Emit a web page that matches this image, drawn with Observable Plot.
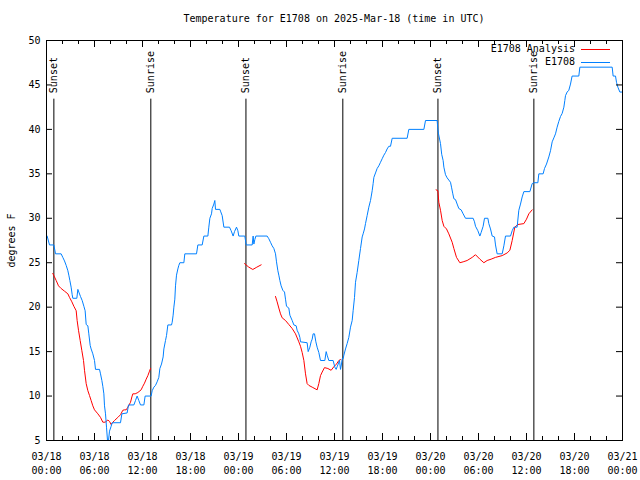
<!DOCTYPE html>
<html><head><meta charset="utf-8">
<script src="https://cdn.jsdelivr.net/npm/d3@7"></script>
<script src="https://cdn.jsdelivr.net/npm/@observablehq/plot@0.6"></script>
<style>
body{margin:0;background:#fff;font-family:"DejaVu Sans Mono",monospace;}
#wrap{position:relative;width:640px;height:480px;overflow:hidden;}
#title{position:absolute;left:334px;top:13px;transform:translateX(-50%);font-size:10px;line-height:12px;white-space:nowrap;}
#chart{position:absolute;left:0;top:30px;}
.lg{position:absolute;font-size:10px;line-height:12px;white-space:nowrap;text-align:right;width:200px;}
.sw{position:absolute;width:29px;height:0;border-top:1px solid;}
</style></head>
<body>
<div id="wrap">
<div id="title">Temperature for E1708 on 2025-Mar-18 (time in UTC)</div>
<div id="chart"></div>
</div>
<script>
// hours since 2025-03-18 00:00 UTC
const blueHours = [0.08,0.375,0.92,1.125,1.83,2.04,2.25,2.46,2.67,2.79,2.92,3.08,3.21,3.29,3.79,3.92,4.04,4.25,4.46,4.67,4.83,4.96,5.17,5.29,5.46,5.58,5.79,6.0,6.125,6.625,6.75,6.92,7.04,7.17,7.25,7.375,7.5,7.625,7.75,7.875,8.08,8.21,9.25,9.42,10.08,10.25,10.92,11.125,11.33,11.54,11.75,12.17,12.33,13.08,
13.21,13.42,13.625,13.83,14.04,14.17,14.375,14.58,14.67,14.875,15.0,15.17,15.625,15.71,15.83,15.92,16.04,16.125,16.25,16.42,16.54,16.67,17.17,17.29,18.75,18.92,19.46,19.67,20.17,20.29,20.42,20.625,20.71,20.92,21.04,21.125,21.67,21.75,21.96,22.17,22.875,23.08,23.33,23.5,23.75,23.92,24.04,24.79,24.96,25.71,25.83,25.92,26.04,26.17,27.58,
27.79,28.0,28.21,28.42,28.625,28.75,28.92,29.04,29.17,29.33,29.54,29.75,29.875,30.0,30.29,30.42,30.71,30.92,31.21,31.33,31.54,31.67,31.75,32.58,32.71,32.92,33.08,33.21,33.33,33.5,33.67,33.83,34.04,34.25,34.79,34.96,35.08,35.29,35.83,36.04,36.21,36.33,36.46,36.625,36.75,36.875,36.96,37.08,37.17,37.375,37.58,37.79,38.0,38.21,38.33,38.5,38.625,38.83,39.04,39.25,39.46,39.58,39.75,39.875,40.08,40.29,40.5,40.58,40.71,40.83,40.92,41.125,41.33,41.54,41.75,41.96,42.17,42.375,42.58,42.79,43.0,43.21,45.08,45.29,47.17,47.375,48.83,
48.92,49.0,49.25,49.4,49.58,49.67,49.875,50.08,50.29,50.5,50.625,50.79,50.92,51.125,51.33,51.54,51.83,52.08,52.375,53.33,53.5,53.625,53.92,54.17,54.33,54.58,54.75,55.17,55.29,55.5,55.71,56.0,56.125,56.33,56.96,57.17,57.375,58.0,58.21,58.42,58.83,59.04,59.25,59.46,59.67,60.42,60.71,60.92,61.42,61.54,62.08,62.25,62.5,62.79,63.0,63.21,63.42,63.625,63.83,64.04,64.25,64.46,64.67,64.79,64.875,65.08,65.29,65.5,65.7,66.54,66.67,70.71,70.83,71.125,71.25,71.42,71.67,72.0];
const blueTemps = [28,27,27,26,26,25.6,25.2,24.7,24.1,23.6,23.0,22.25,21.4,21,21,22,21.7,21.2,20.75,20.1,19.6,18.05,17.9,17.0,15.7,15.3,14.75,14.0,13,13,12.5,11.75,11.1,10.25,8.9,8.0,6.5,5.0,5.0,6.05,6.6,7.0,7.0,8.0,8.1,9,9,9.5,10,9.5,9,9,10,10,
10.6,11.0,11.2,11.6,12.1,13.1,13.6,14.4,15.3,16.25,16.8,18,18,18.3,19.1,20.0,20.9,22.4,23.6,24.3,24.7,25,25,26,26,27,27,28,28,29,30,30.5,31.1,31.6,32,31,31,30.8,30.3,29,29,28.6,28,28.5,29,28.6,28,28,27,27,28,27.1,27.6,28,28,
27.7,27.3,26.9,26.6,26.0,25.1,24.1,23.6,23.0,22.4,21.9,21.7,20.9,20.1,19.9,19.1,18.5,18.0,17.9,17.4,17.0,16.6,16.1,16.0,15.0,15.5,16.1,16.4,17.0,17.0,16.1,15.5,14.9,14.0,14.0,15.0,14.6,14.0,14.0,13.25,13.0,13.3,13.6,14.0,13.0,13.6,14.2,14.2,14.6,15.3,15.9,16.6,17.75,18.5,19.6,21.1,22.8,23.9,25.25,26.6,27.9,28.25,28.8,29.4,30.3,31.25,32.0,32.4,33.1,33.9,34.6,35.1,35.6,35.9,36.3,36.7,37.1,37.4,37.8,38.1,38.1,39,39,40,40,41,41,
40.06,39.5,38.4,37.2,36.5,35.75,34.9,34.55,34.3,34.05,33.5,32.75,32.2,32.1,31.6,31.1,30.95,30.5,30.0,30.0,29.6,29.1,28.6,28.0,28.4,29.1,30.0,30.0,29.4,28.8,28.0,27.9,27.0,26.0,26.0,26.9,28.0,28.0,28.6,29.0,29.0,30.9,31.6,32.4,33.0,33.0,33.9,34.0,34.0,35.0,35.0,35.6,36.1,36.9,37.6,38.6,39.05,39.5,40.25,40.9,41.45,41.8,42.5,43.25,43.8,44.2,44.4,45.1,46,46,47,47,46,46,45.3,44.75,44.2,44.2];

const redHours = [0.79,1.0,1.21,1.5,1.83,2.25,2.67,2.875,3.17,3.42,3.71,3.83,4.0,4.21,4.42,4.625,4.75,4.96,5.17,5.375,5.58,5.79,6.0,6.42,6.75,7.04,7.33,7.67,7.875,8.08,8.29,8.5,8.92,9.25,9.54,9.75,9.96,10.17,10.5,10.67,10.79,11.08,11.42,11.83,12.04,12.25,12.46,12.67,12.875,13.0,13.01,
24.75,25.29,25.79,26.29,26.83,26.84,
28.625,28.83,29.04,29.25,29.46,29.875,30.29,30.71,31.125,31.54,31.75,31.96,32.17,32.375,32.58,32.79,33.21,33.83,34.04,34.25,34.46,34.75,35.17,35.58,35.92,36.25,36.54,36.75,36.76,
48.7,48.92,49.04,49.25,49.46,49.67,50.0,50.29,50.71,50.92,51.25,51.67,52.08,52.58,53.21,53.625,54.17,54.67,55.08,55.58,56.125,56.96,57.58,57.92,58.21,58.54,58.92,59.67,60.0,60.29,60.71];
const redTemps = [23.8,23.4,23.0,22.4,22.1,21.8,21.5,21.1,20.6,20.1,19.6,18.5,17.4,16.25,15.1,14.0,12.9,11.4,10.6,10.06,9.5,8.9,8.45,8.0,7.6,7.06,7.06,7.3,7.15,6.8,7.05,7.25,7.6,7.9,8.4,8.45,8.45,8.75,9.3,9.9,10.25,10.25,10.4,10.7,11.1,11.45,11.9,12.3,12.8,13.1,NaN,
24.9,24.5,24.24,24.5,24.76,NaN,
21.2,20.6,19.9,19.25,18.8,18.5,18.05,17.6,17.0,16.1,15.6,14.9,14.0,12.5,11.4,11.2,11.0,10.7,11.4,12.3,12.7,13.2,13.1,12.9,13.3,13.6,14.0,14.1,NaN,
33.2,33.1,31.8,30.9,29.75,29.1,28.8,28.25,27.3,26.6,25.6,25.0,25.1,25.25,25.6,25.9,25.4,25.0,25.25,25.4,25.6,25.8,26.1,26.4,27.5,29.0,29.3,29.4,29.9,30.5,30.95];

const sunHours = [0.92,13.04,24.93,37.04,48.93,60.92];
const sunLabels = ["Sunset","Sunrise","Sunset","Sunrise","Sunset","Sunrise"];
const sunLineTop = 43.4;

const xMajorHours = [0,6,12,18,24,30,36,42,48,54,60,66,72];
const xMinorHours = [2,4,8,10,14,16,20,22,26,28,32,34,38,40,44,46,50,52,56,58,62,64,68,70];
const yTicks = [5,10,15,20,25,30,35,40,45,50];
const seriesNames = ["E1708 Analysis","E1708"];
const seriesColors = ["#ff0000","#0080ff"];

const t0 = Date.UTC(2025,2,18);
const toDate = h => new Date(t0 + h*3600e3);
const blue = blueHours.map((h,i)=>({t:toDate(h), v:blueTemps[i]}));
const red = redHours.map((h,i)=>({t:toDate(h), v:redTemps[i]}));
const sun = sunHours.map((h,i)=>({t:toDate(h), label:sunLabels[i]}));
const xMajor = xMajorHours.map(toDate);
const xMinor = xMinorHours.map(toDate);
const fmt1 = d3.utcFormat("%m/%d"), fmt2 = d3.utcFormat("%H:%M");

const W=640, H=450, mL=46, mR=18, mT=10, mB=40;
const pw = W-mL-mR, ph = H-mT-mB;

const chart = Plot.plot({
  width: W, height: H,
  marginLeft: mL, marginRight: mR, marginTop: mT, marginBottom: mB,
  style: {fontFamily: "DejaVu Sans Mono, monospace", fontSize: "10px", background: "white", color: "black"},
  x: {type: "utc", domain: [toDate(0), toDate(72)]},
  y: {domain: [5, 50]},
  marks: [
    Plot.ruleX(sun, {x: "t", y1: 5, y2: sunLineTop, stroke: "black", strokeWidth: 1}),
    Plot.text(sun, {x: "t", y: sunLineTop, text: "label", rotate: -90, textAnchor: "start", dy: -6, fill: "black"}),
    Plot.line(red, {x: "t", y: "v", stroke: seriesColors[0], strokeWidth: 1}),
    Plot.line(blue, {x: "t", y: "v", stroke: seriesColors[1], strokeWidth: 1}),
    Plot.tickX(xMajor, {x: d=>d, insetTop: ph-7, stroke: "black"}),
    Plot.tickX(xMajor, {x: d=>d, insetBottom: ph-7, stroke: "black"}),
    Plot.tickX(xMinor, {x: d=>d, insetTop: ph-4, stroke: "black"}),
    Plot.tickX(xMinor, {x: d=>d, insetBottom: ph-4, stroke: "black"}),
    Plot.tickY(yTicks, {y: d=>d, insetRight: pw-6, stroke: "black"}),
    Plot.tickY(yTicks, {y: d=>d, insetLeft: pw-6, stroke: "black"}),
    Plot.axisX({ticks: xMajor, tickSize: 0, tickPadding: 9, lineHeight: 1.45, tickFormat: d => fmt1(d) + "\n" + fmt2(d), label: null}),
    Plot.axisY({ticks: yTicks, tickSize: 0, tickPadding: 6, label: null}),
    Plot.text(["degrees F"], {frameAnchor: "left", rotate: -90, textAnchor: "middle", dx: -35}),
    Plot.frame({stroke: "black"})
  ]
});
document.getElementById("chart").appendChild(chart);

// legend (top-right inside the plot)
const wrap = document.getElementById("wrap");
seriesNames.forEach((name,i)=>{
  const cy = 49 + i*13;
  const t = document.createElement("div");
  t.className = "lg"; t.textContent = name;
  t.style.left = (575-200)+"px"; t.style.top = (cy-6)+"px";
  wrap.appendChild(t);
  const s = document.createElement("div");
  s.className = "sw"; s.style.left = "581px"; s.style.top = cy+"px";
  s.style.borderTopColor = seriesColors[i];
  wrap.appendChild(s);
});
</script>
</body></html>
